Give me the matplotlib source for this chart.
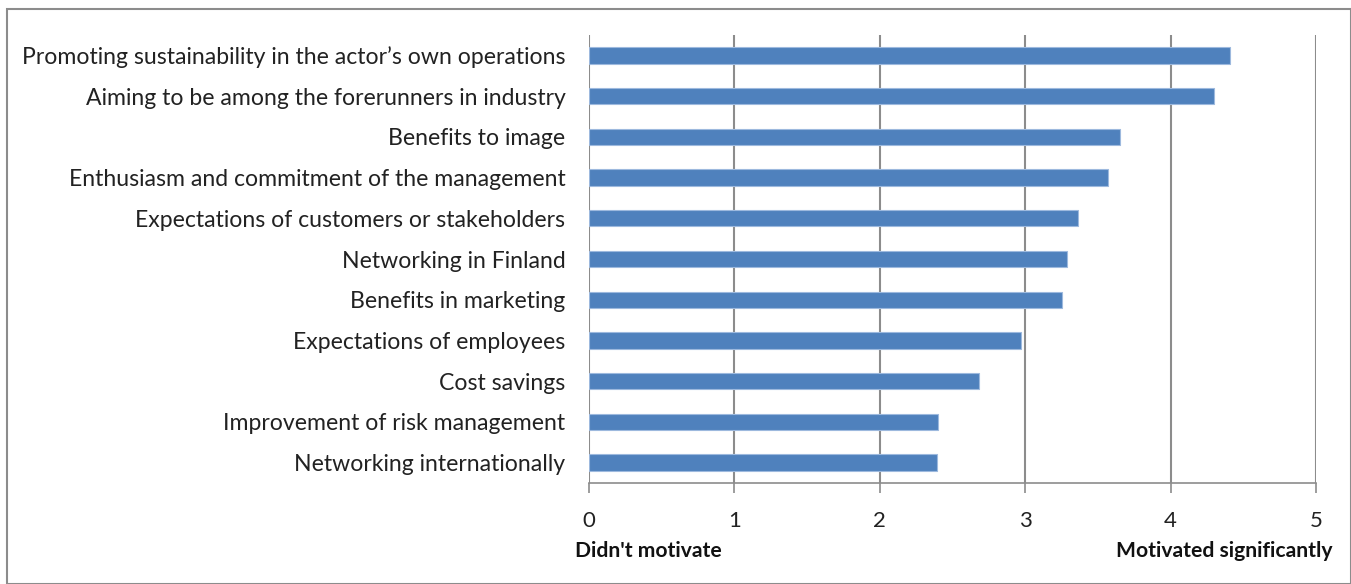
import matplotlib.pyplot as plt
from matplotlib.patches import Rectangle

plt.rcParams['font.family'] = ['Lato', 'DejaVu Sans']

motives = [
    "Promoting sustainability in the actor\u2019s own operations",
    "Aiming to be among the forerunners in industry",
    "Benefits to image",
    "Enthusiasm and commitment of the management",
    "Expectations of customers or stakeholders",
    "Networking in Finland",
    "Benefits in marketing",
    "Expectations of employees",
    "Cost savings",
    "Improvement of risk management",
    "Networking internationally",
]
scores = [4.41, 4.30, 3.65, 3.57, 3.36, 3.29, 3.25, 2.97, 2.68, 2.40, 2.39]
xticks = [0, 1, 2, 3, 4, 5]

W, H = 1351, 584
fig = plt.figure(figsize=(W / 100, H / 100), dpi=100)
# plot area in pixels
x0, x1, y0, y1 = 589, 1316, 35, 483
ax = fig.add_axes([x0 / W, 1 - y1 / H, (x1 - x0) / W, (y1 - y0) / H])

ypos = list(range(len(motives)))
ax.barh(ypos, scores, height=0.4, color='#4F81BD', edgecolor='#9DB9DE', linewidth=0.8, zorder=3)
ax.set_ylim(len(motives) - 0.5, -0.5)
ax.set_xlim(0, 5)

ax.set_xticks(xticks)
ax.set_xticklabels([str(t) for t in xticks], fontsize=16, color='#222222')
ax.set_yticks(ypos)
ax.set_yticklabels(motives, fontsize=16.6, color='#222222')
ax.tick_params(axis='y', length=0, pad=17)
ax.tick_params(axis='x', length=7, width=1.2, color='#8C8C8C', pad=13, direction='out')

ax.grid(axis='x', color='#8C8C8C', linewidth=1.5, zorder=0)
ax.grid(axis='y', visible=False)
for s in ['left', 'top', 'right']:
    ax.spines[s].set_visible(False)
ax.spines['bottom'].set_color('#8C8C8C')
ax.spines['bottom'].set_linewidth(1.2)

fig.text(575 / W, 1 - 551 / H, "Didn't motivate", fontsize=15.2, fontweight='bold',
         ha='left', va='center', color='#111111')
fig.text(1332 / W, 1 - 551 / H, "Motivated significantly", fontsize=15.2, fontweight='bold',
         ha='right', va='center', color='#111111')

# outer frame
fig.patches.append(Rectangle((7 / W, 0), 1 - 7 / W - 0.5 / W, 1 - 9 / H, transform=fig.transFigure,
                             fill=False, edgecolor='#8C8C8C', linewidth=1.5))

fig.savefig('out.png', dpi=100)
